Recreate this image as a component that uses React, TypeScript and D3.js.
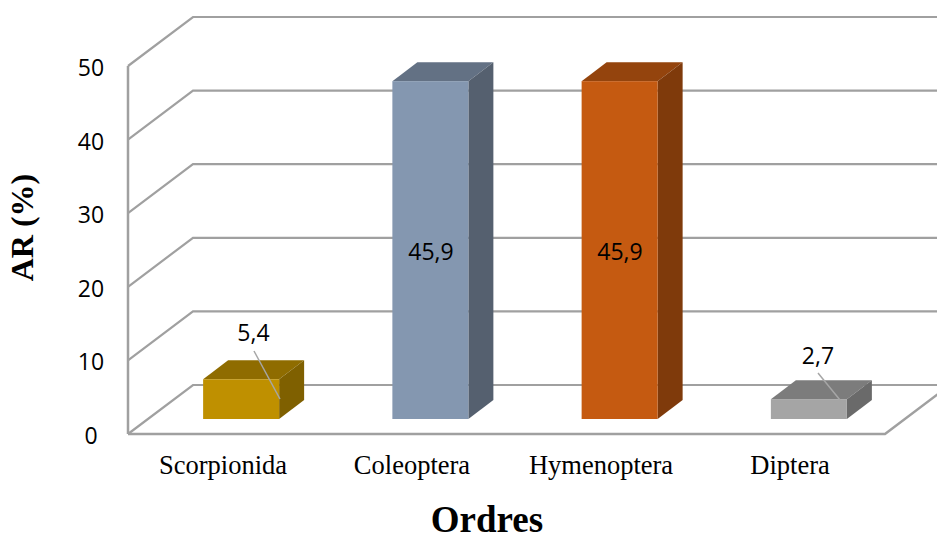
import React from "react";
import * as d3 from "d3";

const categories = ["Scorpionida", "Coleoptera", "Hymenoptera", "Diptera"];
const values = [5.4, 45.9, 45.9, 2.7];
const labels = ["5,4", "45,9", "45,9", "2,7"];
const ticks = [0, 10, 20, 30, 40, 50];
const frontColors = ["#BF9000", "#8497B0", "#C55A11", "#A5A5A5"];
const topColors = ["#8F6C00", "#637184", "#94440D", "#7C7C7C"];
const sideColors = ["#7F6000", "#55606F", "#7F3A0B", "#6A6A6A"];

const GRID = "#A0A0A0";
const SERIF = "'Liberation Serif', serif";
const SANS = "'Open Sans', sans-serif";

export default function App() {
  const wallY = d3.scaleLinear().domain([0, 50]).range([434, 66]);
  const barY = d3.scaleLinear().domain([0, 50]).range([419, 51]);
  const band = d3.scaleBand().domain(categories).range([128, 885]);
  const depthX = 65;
  const depthY = 49;
  const barW = 76;
  const barDX = 25;
  const barDY = 19;
  const barShift = 18.5;

  return (
    <svg width={937} height={534} style={{ position: "fixed", left: 0, top: 0, background: "#fff" }}>
      <g fill="none" stroke={GRID} strokeWidth={2.2}>
        {ticks.map((t) => (
          <polyline
            key={t}
            points={`128,${wallY(t)} ${128 + depthX},${wallY(t) - depthY} 937,${wallY(t) - depthY}`}
          />
        ))}
        <line x1={128} y1={wallY(0)} x2={128} y2={wallY(50)} strokeWidth={2.5} />
        <polyline points={`128,${wallY(0)} 885,${wallY(0)} ${885 + depthX},${wallY(0) - depthY}`} strokeWidth={2.5} />
      </g>
      {categories.map((c, i) => {
        const x0 = (band(c) as number) + band.bandwidth() / 2 + barShift - barW / 2;
        const x1 = x0 + barW;
        const yt = barY(values[i]);
        const yb = barY(0);
        return (
          <g key={c}>
            <polygon points={`${x0},${yt} ${x0 + barDX},${yt - barDY} ${x1 + barDX},${yt - barDY} ${x1},${yt}`} fill={topColors[i]} />
            <polygon points={`${x1},${yt} ${x1 + barDX},${yt - barDY} ${x1 + barDX},${yb - barDY} ${x1},${yb}`} fill={sideColors[i]} />
            <rect x={x0} y={yt} width={barW} height={yb - yt} fill={frontColors[i]} />
          </g>
        );
      })}
      <line x1={254} y1={351} x2={280} y2={399} stroke="#A6A6A6" strokeWidth={1.5} />
      <line x1={818} y1={373} x2={840} y2={400} stroke="#A6A6A6" strokeWidth={1.5} />
      <g fontFamily={SANS} fontSize={23} fill="#000" textAnchor="middle">
        <text x={253.5} y={341}>{labels[0]}</text>
        <text x={431} y={260}>{labels[1]}</text>
        <text x={620} y={260}>{labels[2]}</text>
        <text x={818} y={364}>{labels[3]}</text>
      </g>
      <g fontFamily={SANS} fontSize={23} fill="#000" textAnchor="middle">
        {ticks.map((t) => (
          <text key={t} x={91} y={wallY(t) + 10}>{t}</text>
        ))}
      </g>
      <g fontFamily={SERIF} fontSize={26.5} fill="#000" textAnchor="middle">
        {categories.map((c, i) => (
          <text key={c} x={[223, 412, 601, 790][i]} y={474}>{c}</text>
        ))}
      </g>
      <text x={487} y={532} fontFamily={SERIF} fontSize={37} fontWeight="bold" textAnchor="middle">Ordres</text>
      <text
        transform="translate(33,227.5) rotate(-90)"
        fontFamily={SERIF}
        fontSize={32}
        fontWeight="bold"
        textAnchor="middle"
      >AR (%)</text>
    </svg>
  );
}
